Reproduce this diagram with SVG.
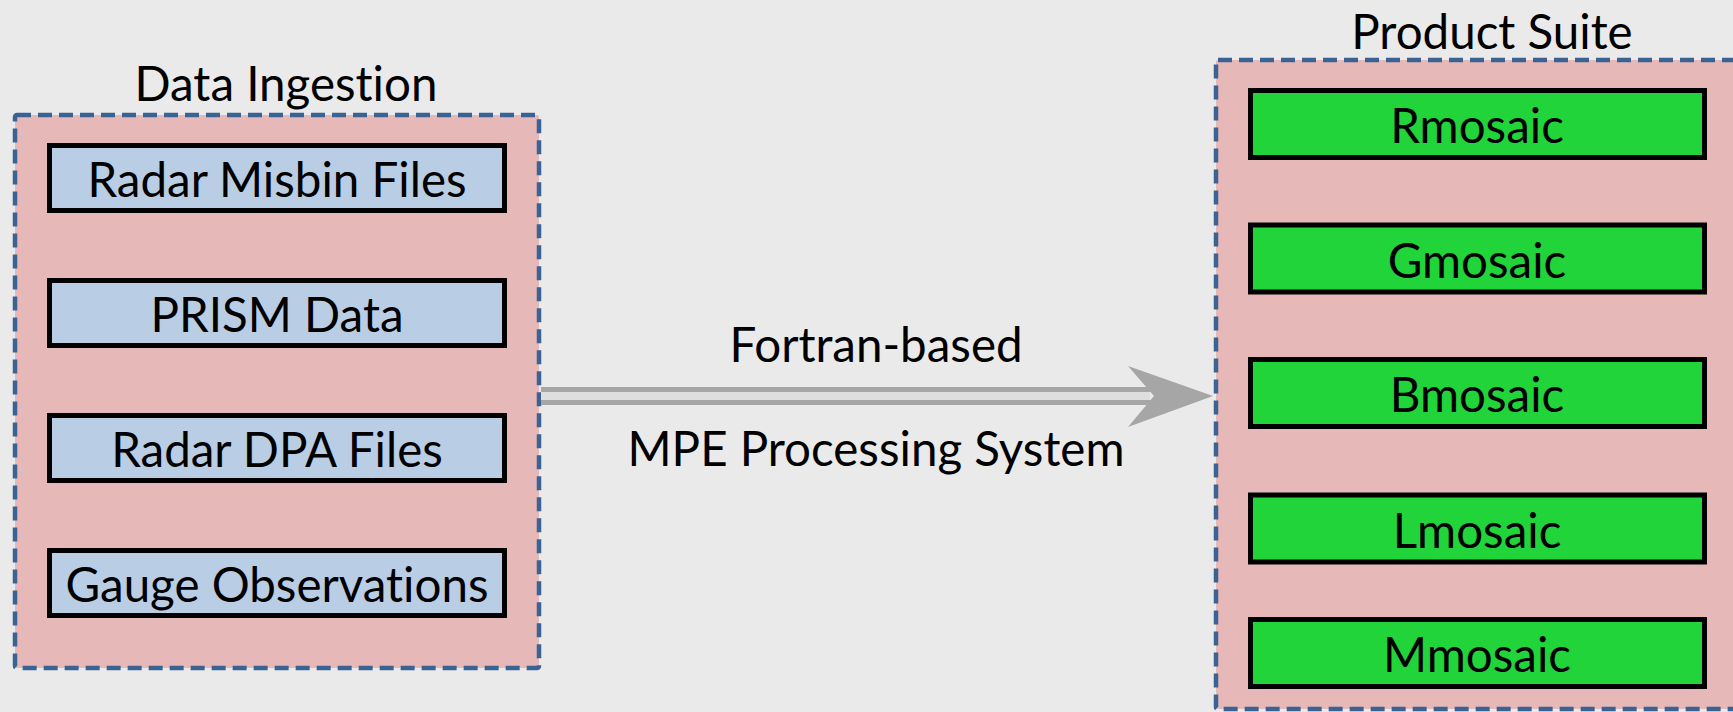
<svg xmlns="http://www.w3.org/2000/svg" width="1733" height="712" viewBox="0 0 1733 712">
<style>
  .bg { fill: #eaeaea; }
  .container { fill: #e6b9b8; stroke: #3a6394; stroke-width: 4.5; stroke-dasharray: 14 7; }
  .inbox { fill: #b9cde5; stroke: #000; stroke-width: 5; }
  .outbox { fill: #21d43a; stroke: #000; stroke-width: 5; }
  .lbl { font-family: Lato, "Liberation Sans", sans-serif; font-size: 47.5px; fill: #000; text-anchor: middle; font-variant-ligatures: none; }
  .shaft { stroke: #a6a6a6; stroke-width: 5; fill: none; }
  .shaftmid { stroke: #dedede; stroke-width: 8; fill: none; }
  .head { fill: #a6a6a6; }
</style>
<rect class="bg" x="0" y="0" width="1733" height="712"/>

<g id="data-ingestion">
  <rect class="container" x="15" y="115" width="524" height="553" rx="2"/>
  <text class="lbl" x="286" y="101">Data Ingestion</text>
</g>
<g id="radar-misbin-files">
  <rect class="inbox" x="49.5" y="145.5" width="455" height="65"/>
  <text class="lbl" x="277" y="197">Radar Misbin Files</text>
</g>
<g id="prism-data">
  <rect class="inbox" x="49.5" y="280.5" width="455" height="65"/>
  <text class="lbl" x="277" y="332">PRISM Data</text>
</g>
<g id="radar-dpa-files">
  <rect class="inbox" x="49.5" y="415.5" width="455" height="65"/>
  <text class="lbl" x="277" y="467">Radar DPA Files</text>
</g>
<g id="gauge-observations">
  <rect class="inbox" x="49.5" y="550.5" width="455" height="65"/>
  <text class="lbl" x="277" y="602">Gauge Observations</text>
</g>

<g id="product-suite">
  <rect class="container" x="1216" y="60" width="560" height="649" rx="2"/>
  <text class="lbl" x="1492" y="49">Product Suite</text>
</g>
<g id="rmosaic">
  <rect class="outbox" x="1250.5" y="90.5" width="454" height="67"/>
  <text class="lbl" x="1477" y="143">Rmosaic</text>
</g>
<g id="gmosaic">
  <rect class="outbox" x="1250.5" y="225" width="454" height="67"/>
  <text class="lbl" x="1477" y="277.5">Gmosaic</text>
</g>
<g id="bmosaic">
  <rect class="outbox" x="1250.5" y="359.5" width="454" height="67"/>
  <text class="lbl" x="1477" y="412">Bmosaic</text>
</g>
<g id="lmosaic">
  <rect class="outbox" x="1250.5" y="495" width="454" height="67"/>
  <text class="lbl" x="1477" y="547.5">Lmosaic</text>
</g>
<g id="mmosaic">
  <rect class="outbox" x="1250.5" y="619.5" width="454" height="67"/>
  <text class="lbl" x="1477" y="672">Mmosaic</text>
</g>

<g id="connectors">
  <line class="shaftmid" x1="541" y1="396" x2="1150" y2="396"/>
  <line class="shaft" x1="541" y1="389.5" x2="1156" y2="389.5"/>
  <line class="shaft" x1="541" y1="402.5" x2="1156" y2="402.5"/>
  <polygon class="head" points="1128,366 1213,396 1128,427 1154,396"/>
  <text class="lbl" x="876" y="362">Fortran-based</text>
  <text class="lbl" x="876" y="466">MPE Processing System</text>
</g>
</svg>
